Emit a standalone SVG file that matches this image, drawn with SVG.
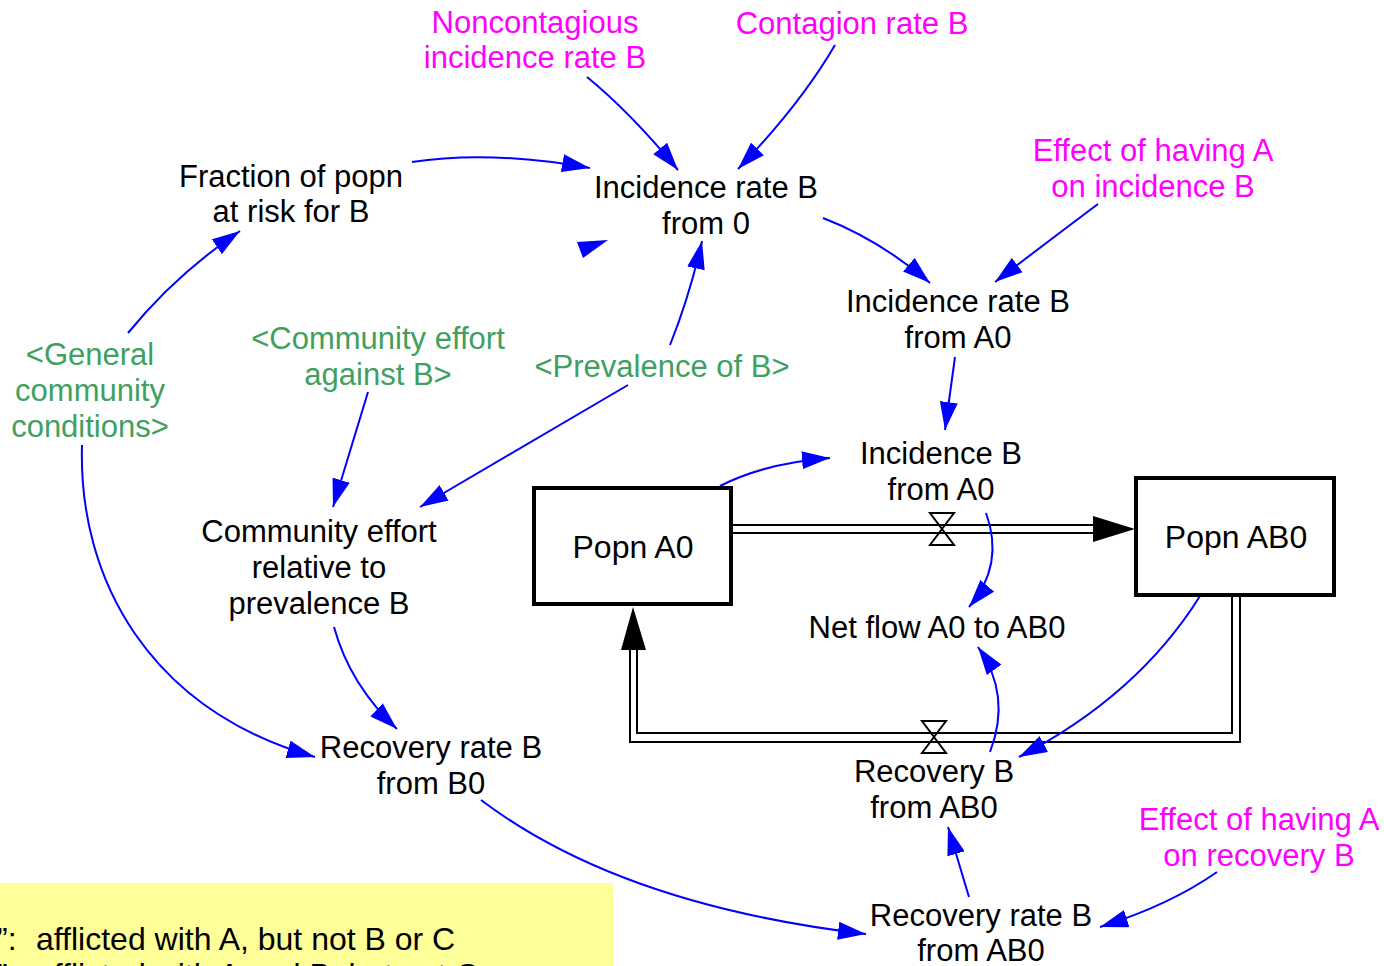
<svg xmlns="http://www.w3.org/2000/svg" width="1384" height="966" viewBox="0 0 1384 966">
<style>
text{font-family:"Liberation Sans",Arial,sans-serif;font-size:31px;text-anchor:middle}
.k{fill:#000}
.m{fill:#FF00FF}
.g{fill:#40A060}
.big{font-size:32px}
.c{fill:none;stroke:#0000FF;stroke-width:2;marker-end:url(#ah)}
.pipe{fill:none;stroke:#000;stroke-width:2}
.stock{fill:#fff;stroke:#000;stroke-width:4}
.valve{fill:none;stroke:#000;stroke-width:2;stroke-linejoin:miter}
</style>
<defs>
<marker id="ah" viewBox="0 0 28 18" refX="28" refY="9" markerWidth="28" markerHeight="18" orient="auto" markerUnits="userSpaceOnUse">
<path d="M0,0 L28,9 L0,18 z" fill="#0000FF"/>
</marker>
</defs>
<rect width="1384" height="966" fill="#fff"/>

<g id="note">
<rect x="0" y="883" width="613" height="90" fill="#FFFF99"/>
<text class="k big" x="0" y="950" style="text-anchor:start"><tspan x="-3">”:</tspan><tspan x="36">afflicted with A, but not B or C</tspan></text>
<text class="k big" x="0" y="986" style="text-anchor:start"><tspan x="-3">”:</tspan><tspan x="36">afflicted with A and B, but not C</tspan></text>
</g>

<g id="flows">
<line class="pipe" x1="733" y1="525" x2="1095" y2="525"/>
<line class="pipe" x1="733" y1="533" x2="1095" y2="533"/>
<polygon points="1093,516 1135,529 1093,542" fill="#000"/>
<polygon class="valve" points="930,513 954,513 942,529 954,545 930,545 942,529"/>
<path class="pipe" d="M1240,596 V742 H630 V648"/>
<path class="pipe" d="M1232,596 V733 H637 V648"/>
<polygon points="621,650 633,607 646,650" fill="#000"/>
<polygon class="valve" points="922,721 946,721 934,737 946,753 922,753 934,737"/>
</g>

<g id="connectors">
<path class="c" d="M587,77 Q630,112 678,170"/>
<path class="c" d="M835,45 Q800,105 738,169"/>
<path class="c" d="M412,162 Q490,150 590,168"/>
<path class="c" d="M823,218 Q880,240 930,283"/>
<path class="c" d="M1098,204 Q1050,240 995,282"/>
<path class="c" d="M955,357 L945,430"/>
<path class="c" d="M128,333 Q175,275 240,231"/>
<path class="c" d="M670,345 Q690,295 702,241"/>
<polygon points="577,242 608,240 583,258" fill="#0000FF"/>
<path class="c" d="M368,392 L333,507"/>
<path class="c" d="M628,385 L420,507"/>
<path class="c" d="M82,445 C78,580 150,710 315,757"/>
<path class="c" d="M334,627 Q350,685 397,729"/>
<path class="c" d="M720,486 Q765,463 830,458"/>
<path class="c" d="M986,513 Q1005,565 969,607"/>
<path class="c" d="M990,752 Q1012,695 978,647"/>
<path class="c" d="M1200,596 C1160,660 1100,715 1019,757"/>
<path class="c" d="M969,897 L948,827"/>
<path class="c" d="M1217,872 Q1170,905 1100,927"/>
<path class="c" d="M481,800 Q620,905 866,934"/>
</g>

<g id="n_noncontagious"><text class="m" x="535" y="33">Noncontagious</text><text class="m" x="535" y="68">incidence rate B</text></g>
<g id="n_contagion"><text class="m" x="852" y="34">Contagion rate B</text></g>
<g id="n_fraction"><text class="k" x="291" y="187">Fraction of popn</text><text class="k" x="291" y="222">at risk for B</text></g>
<g id="n_inc0"><text class="k" x="706" y="198">Incidence rate B</text><text class="k" x="706" y="234">from 0</text></g>
<g id="n_effinc"><text class="m" x="1153" y="161">Effect of having A</text><text class="m" x="1153" y="197">on incidence B</text></g>
<g id="n_incA0"><text class="k" x="958" y="312">Incidence rate B</text><text class="k" x="958" y="348">from A0</text></g>
<g id="n_general"><text class="g" x="90" y="365">&lt;General</text><text class="g" x="90" y="401">community</text><text class="g" x="90" y="437">conditions&gt;</text></g>
<g id="n_commeffort"><text class="g" x="378" y="349">&lt;Community effort</text><text class="g" x="378" y="385">against B&gt;</text></g>
<g id="n_prev"><text class="g" x="662" y="377">&lt;Prevalence of B&gt;</text></g>
<g id="n_incBA0"><text class="k" x="941" y="464">Incidence B</text><text class="k" x="941" y="500">from A0</text></g>
<g id="n_commrel"><text class="k" x="319" y="542">Community effort</text><text class="k" x="319" y="578">relative to</text><text class="k" x="319" y="614">prevalence B</text></g>
<g id="n_popnA0"><rect class="stock" x="534" y="488" width="197" height="116"/><text class="k big" x="633" y="558">Popn A0</text></g>
<g id="n_popnAB0"><rect class="stock" x="1136" y="478" width="198" height="117"/><text class="k big" x="1236" y="548">Popn AB0</text></g>
<g id="n_netflow"><text class="k" x="937" y="638">Net flow A0 to AB0</text></g>
<g id="n_recB0"><text class="k" x="431" y="758">Recovery rate B</text><text class="k" x="431" y="794">from B0</text></g>
<g id="n_recAB0"><text class="k" x="934" y="782">Recovery B</text><text class="k" x="934" y="818">from AB0</text></g>
<g id="n_effrec"><text class="m" x="1259" y="830">Effect of having A</text><text class="m" x="1259" y="866">on recovery B</text></g>
<g id="n_recrateAB0"><text class="k" x="981" y="926">Recovery rate B</text><text class="k" x="981" y="961">from AB0</text></g>
</svg>
